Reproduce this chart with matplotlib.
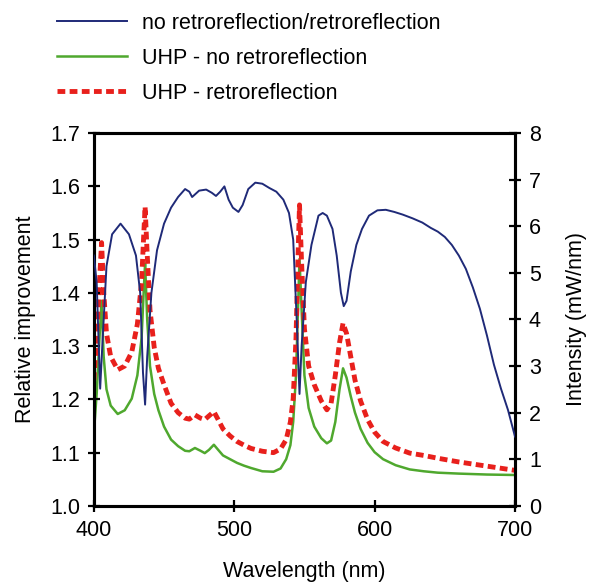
import matplotlib
matplotlib.use("Agg")
import matplotlib.pyplot as plt
from matplotlib.lines import Line2D

plt.rcParams['font.family'] = ['Liberation Sans', 'DejaVu Sans']

# Ratio of retroreflection / no retroreflection (left axis)
ratio_wl = [400, 402, 404.5, 406, 409, 413, 419, 425, 430, 433, 435, 436.5, 438, 441,
            445, 450, 455, 460, 465, 468, 470, 475, 480, 484, 487, 490, 493, 496, 499,
            503, 506, 510, 515, 520, 525, 530, 535, 539, 542, 544.5, 546.5, 548, 551,
            555, 560, 563, 566, 570, 573, 576, 578, 580, 583, 587, 591, 596, 602, 608,
            614, 620, 627, 634, 640, 645, 650, 655, 660, 665, 670, 675, 680, 685, 690,
            695, 700]
ratio = [1.47, 1.42, 1.22, 1.30, 1.45, 1.51, 1.53, 1.51, 1.47, 1.40, 1.25, 1.19, 1.28, 1.40,
         1.48, 1.53, 1.56, 1.58, 1.595, 1.59, 1.58, 1.592, 1.594, 1.588, 1.582, 1.59, 1.60,
         1.575, 1.56, 1.552, 1.565, 1.595, 1.607, 1.605, 1.597, 1.59, 1.575, 1.55, 1.50,
         1.35, 1.21, 1.30, 1.42, 1.49, 1.545, 1.55, 1.545, 1.52, 1.47, 1.40, 1.375, 1.385,
         1.44, 1.49, 1.52, 1.545, 1.555, 1.556, 1.552, 1.547, 1.54, 1.532, 1.522, 1.515,
         1.505, 1.49, 1.47, 1.445, 1.41, 1.37, 1.32, 1.265, 1.22, 1.18, 1.13]

# UHP lamp spectra (right axis, mW/nm)
uhp_wl = [400, 402, 404, 405.5, 407, 409, 412, 417, 422, 427, 431, 434, 435.5, 436.5, 438,
          440, 443, 446, 450, 455, 460, 465, 468, 472, 476, 479, 482, 485.5, 488, 492,
          497, 502, 507, 512, 520, 528, 533, 537, 540, 542, 544, 545.5, 546.5, 548, 550,
          553, 557, 562, 566, 569, 572, 575, 577.5, 580, 583, 586, 590, 595, 600, 606,
          615, 625, 635, 645, 660, 680, 700]
uhp_no_retro = [1.55, 2.4, 3.6, 4.4, 3.2, 2.5, 2.15, 1.97, 2.05, 2.3, 2.8, 3.6, 4.6, 5.2, 4.0,
                3.0, 2.4, 2.05, 1.7, 1.42, 1.28, 1.18, 1.17, 1.24, 1.18, 1.13, 1.2, 1.31,
                1.22, 1.08, 1.0, 0.92, 0.86, 0.81, 0.74, 0.73, 0.8, 1.0, 1.3, 1.8, 2.8, 4.3,
                5.3, 4.2, 2.8, 2.1, 1.7, 1.45, 1.34, 1.4, 1.8, 2.5, 2.95, 2.75, 2.35, 2.0,
                1.65, 1.35, 1.15, 1.0, 0.87, 0.78, 0.74, 0.71, 0.69, 0.67, 0.66]
uhp_retro = [2.7, 3.6, 4.8, 5.65, 4.6, 3.7, 3.2, 2.92, 3.0, 3.3, 3.9, 4.8, 5.8, 6.42, 5.4,
             4.2, 3.4, 2.95, 2.6, 2.2, 2.0, 1.88, 1.86, 1.95, 1.88, 1.85, 1.93, 2.02, 1.88,
             1.65, 1.5, 1.38, 1.3, 1.23, 1.17, 1.14, 1.22, 1.42, 1.8, 2.3, 3.6, 5.4, 6.46,
             5.2, 3.8, 3.0, 2.6, 2.25, 2.06, 2.2, 2.8, 3.5, 3.92, 3.7, 3.2, 2.7, 2.25, 1.85,
             1.58, 1.38, 1.24, 1.13, 1.08, 1.02, 0.94, 0.85, 0.76]

labels = ["no retroreflection/retroreflection", "UHP - no retroreflection",
          "UHP - retroreflection"]

BLUE = "#1f2a78"
GREEN = "#4fa82e"
RED = "#e8201c"
FS = 15.5
RED_DASH = (1.6, 0.9)

fig = plt.figure(figsize=(5.94, 5.84), dpi=100)
ax = fig.add_axes([0.158, 0.134, 0.709, 0.638])
ax2 = ax.twinx()

ax2.plot(uhp_wl, uhp_no_retro, color=GREEN, lw=1.8, zorder=2)
ax2.plot(uhp_wl, uhp_retro, color=RED, lw=3.5, dashes=RED_DASH, zorder=3)
ax.plot(ratio_wl, ratio, color=BLUE, lw=1.4, zorder=4)
ax.set_zorder(ax2.get_zorder() + 1)
ax.patch.set_visible(False)

ax.set_xlim(400, 700)
ax.set_ylim(1.0, 1.7)
ax2.set_ylim(0, 8)
ax.set_xticks([400, 500, 600, 700])
ax.set_yticks([1.0, 1.1, 1.2, 1.3, 1.4, 1.5, 1.6, 1.7])
ax.set_yticklabels([f"{v:.1f}" for v in ax.get_yticks()])
ax2.set_yticks(range(0, 9))

for a in (ax, ax2):
    for s in a.spines.values():
        s.set_linewidth(2.2)
    a.tick_params(direction='inout', length=8, width=1.6, labelsize=FS, pad=6)

ax.set_xlabel("Wavelength (nm)", fontsize=FS, labelpad=15)
ax.set_ylabel("Relative improvement", fontsize=FS, labelpad=10)
ax2.set_ylabel("Intensity (mW/nm)", fontsize=FS, labelpad=18)

handles = [Line2D([], [], color=BLUE, lw=1.4),
           Line2D([], [], color=GREEN, lw=1.8),
           Line2D([], [], color=RED, lw=3.5, dashes=RED_DASH)]
fig.legend(handles, labels, loc='upper left', bbox_to_anchor=(0.063, 1.011),
           frameon=False, fontsize=FS, handlelength=3.25, handletextpad=0.7,
           labelspacing=0.65)

fig.savefig("out.png", dpi=100)
